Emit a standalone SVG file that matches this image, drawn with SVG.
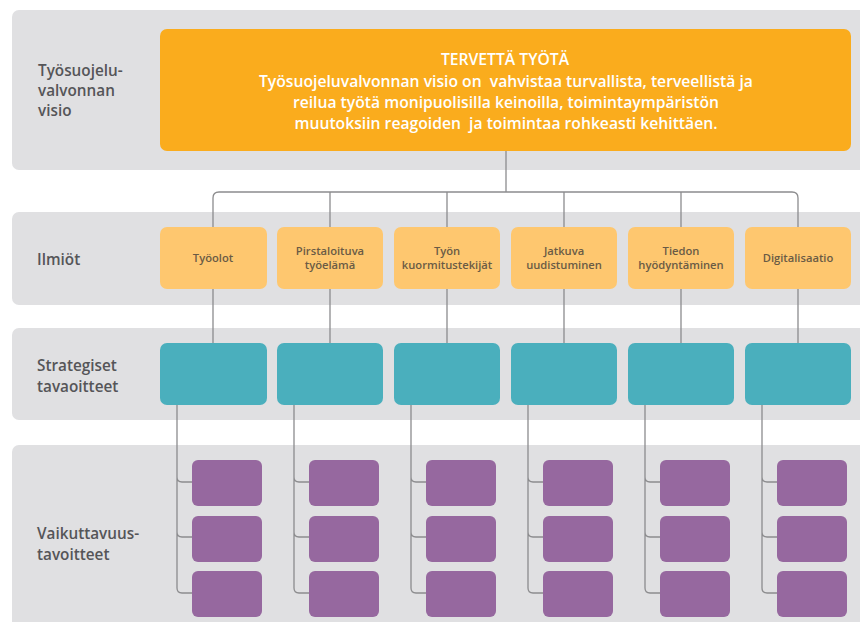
<svg xmlns="http://www.w3.org/2000/svg" width="860" height="622" viewBox="0 0 860 622">
<defs>
<style>
.band{fill:#e0e0e2}
.lbl{font-family:"Open Sans","Liberation Sans",sans-serif;font-weight:600;font-size:15.3px;fill:#555558}
.vis{fill:#faac1d}
.vt{font-family:"Open Sans","Liberation Sans",sans-serif;font-weight:600;font-size:15.7px;fill:#ffffff;text-anchor:middle;white-space:pre}
.ph{fill:#fec76f}
.pt{font-family:"Open Sans","Liberation Sans",sans-serif;font-weight:600;font-size:11.2px;fill:#6a5b45;text-anchor:middle}
.st{fill:#4aafbd}
.im{fill:#96689f}
.con{fill:none;stroke:#8c8c8e;stroke-width:1.3}
</style>
</defs>
<rect width="860" height="622" fill="#ffffff"/>
<g id="bands">
<rect class="band" x="12" y="10" width="860" height="160" rx="7"/>
<rect class="band" x="12" y="212" width="860" height="93" rx="7"/>
<rect class="band" x="12" y="328" width="860" height="92" rx="7"/>
<rect class="band" x="12" y="445" width="860" height="190" rx="7"/>
</g>
<g id="row-labels">
<text class="lbl" x="38" y="76">Työsuojelu-</text>
<text class="lbl" x="38" y="96">valvonnan</text>
<text class="lbl" x="38" y="116">visio</text>
<text class="lbl" x="37" y="265">Ilmiöt</text>
<text class="lbl" x="37" y="371">Strategiset</text>
<text class="lbl" x="37" y="392">tavaoitteet</text>
<text class="lbl" x="37" y="539">Vaikuttavuus-</text>
<text class="lbl" x="37" y="560">tavoitteet</text>
</g>
<g id="connectors">
<path class="con" d="M506,151V192"/>
<path class="con" d="M213,227V198Q213,192 219,192H792Q798,192 798,198V227"/>
<path class="con" d="M330,192V227M447,192V227M564,192V227M681,192V227"/>
<path class="con" d="M213,289V343M330,289V343M447,289V343M564,289V343M681,289V343M798,289V343"/>
<path class="con" d="M177,405V588Q177,593 182,593H192M177,477Q177,482 182,482H192M177,532Q177,537 182,537H192"/>
<path class="con" transform="translate(117,0)" d="M177,405V588Q177,593 182,593H192M177,477Q177,482 182,482H192M177,532Q177,537 182,537H192"/>
<path class="con" transform="translate(234,0)" d="M177,405V588Q177,593 182,593H192M177,477Q177,482 182,482H192M177,532Q177,537 182,537H192"/>
<path class="con" transform="translate(351,0)" d="M177,405V588Q177,593 182,593H192M177,477Q177,482 182,482H192M177,532Q177,537 182,537H192"/>
<path class="con" transform="translate(468,0)" d="M177,405V588Q177,593 182,593H192M177,477Q177,482 182,482H192M177,532Q177,537 182,537H192"/>
<path class="con" transform="translate(585,0)" d="M177,405V588Q177,593 182,593H192M177,477Q177,482 182,482H192M177,532Q177,537 182,537H192"/>
</g>
<g id="vision">
<rect class="vis" x="160" y="29" width="691" height="122" rx="7"/>
<text class="vt" x="505" y="65">TERVETTÄ TYÖTÄ</text>
<text class="vt" x="506" y="87" xml:space="preserve">Työsuojeluvalvonnan visio on  vahvistaa turvallista, terveellistä ja</text>
<text class="vt" x="506" y="108">reilua työtä monipuolisilla keinoilla, toimintaympäristön</text>
<text class="vt" x="506" y="129" xml:space="preserve">muutoksiin reagoiden  ja toimintaa rohkeasti kehittäen.</text>
</g>
<g id="ilmio-1"><rect class="ph" x="160" y="227" width="107" height="62" rx="7"/><text class="pt" x="213" y="262">Työolot</text></g>
<g id="ilmio-2"><rect class="ph" x="277" y="227" width="106" height="62" rx="7"/><text class="pt" x="330" y="255">Pirstaloituva</text><text class="pt" x="330" y="269">työelämä</text></g>
<g id="ilmio-3"><rect class="ph" x="394" y="227" width="106" height="62" rx="7"/><text class="pt" x="447" y="255">Työn</text><text class="pt" x="447" y="269">kuormitustekijät</text></g>
<g id="ilmio-4"><rect class="ph" x="511" y="227" width="106" height="62" rx="7"/><text class="pt" x="564" y="255">Jatkuva</text><text class="pt" x="564" y="269">uudistuminen</text></g>
<g id="ilmio-5"><rect class="ph" x="628" y="227" width="106" height="62" rx="7"/><text class="pt" x="681" y="255">Tiedon</text><text class="pt" x="681" y="269">hyödyntäminen</text></g>
<g id="ilmio-6"><rect class="ph" x="745" y="227" width="106" height="62" rx="7"/><text class="pt" x="798" y="262">Digitalisaatio</text></g>
<g id="strat-1"><rect class="st" x="160" y="343" width="107" height="62" rx="7"/></g>
<g id="strat-2"><rect class="st" x="277" y="343" width="106" height="62" rx="7"/></g>
<g id="strat-3"><rect class="st" x="394" y="343" width="106" height="62" rx="7"/></g>
<g id="strat-4"><rect class="st" x="511" y="343" width="106" height="62" rx="7"/></g>
<g id="strat-5"><rect class="st" x="628" y="343" width="106" height="62" rx="7"/></g>
<g id="strat-6"><rect class="st" x="745" y="343" width="106" height="62" rx="7"/></g>
<g id="impact-1"><rect class="im" x="192" y="460" width="70" height="46" rx="6"/><rect class="im" x="192" y="516" width="70" height="46" rx="6"/><rect class="im" x="192" y="571" width="70" height="46" rx="6"/></g>
<g id="impact-2"><rect class="im" x="309" y="460" width="70" height="46" rx="6"/><rect class="im" x="309" y="516" width="70" height="46" rx="6"/><rect class="im" x="309" y="571" width="70" height="46" rx="6"/></g>
<g id="impact-3"><rect class="im" x="426" y="460" width="70" height="46" rx="6"/><rect class="im" x="426" y="516" width="70" height="46" rx="6"/><rect class="im" x="426" y="571" width="70" height="46" rx="6"/></g>
<g id="impact-4"><rect class="im" x="543" y="460" width="70" height="46" rx="6"/><rect class="im" x="543" y="516" width="70" height="46" rx="6"/><rect class="im" x="543" y="571" width="70" height="46" rx="6"/></g>
<g id="impact-5"><rect class="im" x="660" y="460" width="70" height="46" rx="6"/><rect class="im" x="660" y="516" width="70" height="46" rx="6"/><rect class="im" x="660" y="571" width="70" height="46" rx="6"/></g>
<g id="impact-6"><rect class="im" x="777" y="460" width="70" height="46" rx="6"/><rect class="im" x="777" y="516" width="70" height="46" rx="6"/><rect class="im" x="777" y="571" width="70" height="46" rx="6"/></g>
</svg>
